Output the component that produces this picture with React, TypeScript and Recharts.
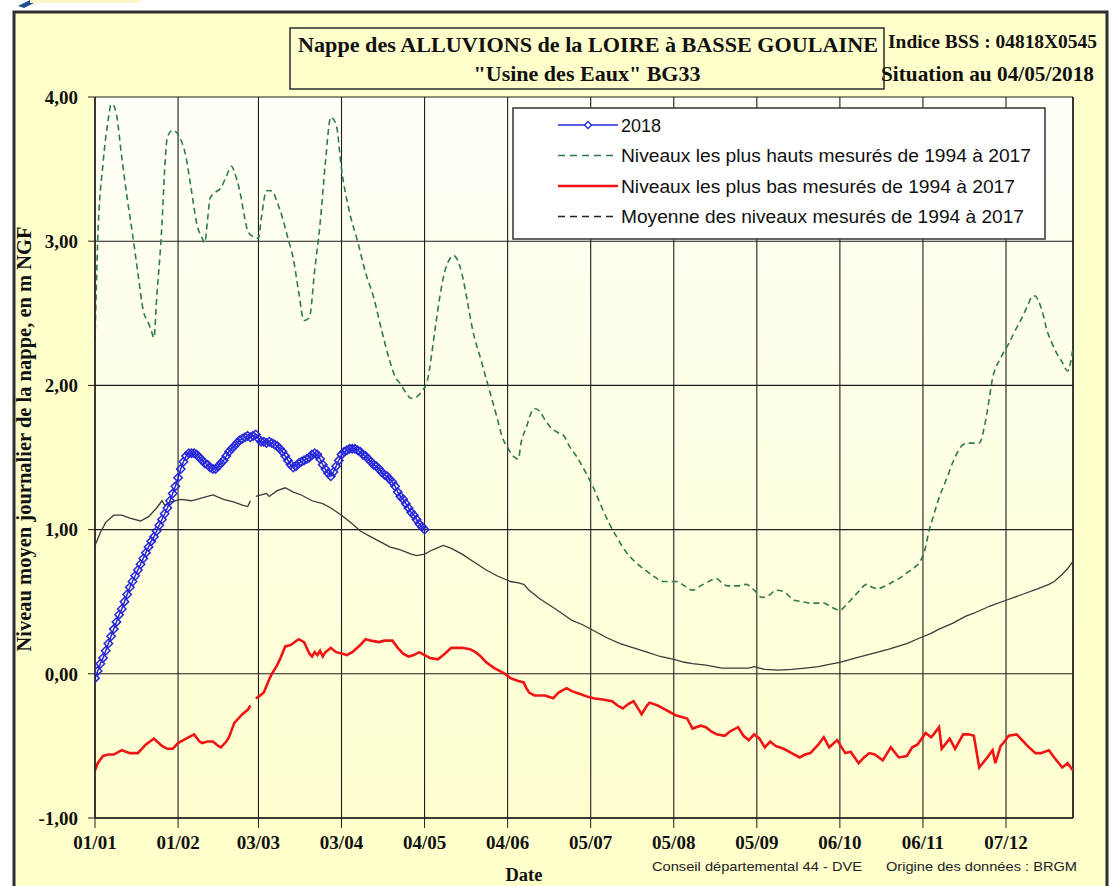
import React from 'react';
import { LineChart, Line, XAxis, YAxis, CartesianGrid, ReferenceLine } from 'recharts';

// ---------- axes ----------
const tickDays = [0, 31, 61, 92, 123, 154, 185, 216, 247, 278, 309, 340];
const tickLabels = ['01/01', '01/02', '03/03', '03/04', '04/05', '04/06', '05/07', '05/08', '05/09', '06/10', '06/11', '07/12'];
const yTicks = [-1, 0, 1, 2, 3, 4];

// ---------- 2018 daily values (day 0 = 01/01) ----------
const values2018 = [
  -0.03, 0.02, 0.07, 0.11, 0.16, 0.21, 0.26, 0.31, 0.36, 0.41,
  0.45, 0.50, 0.55, 0.60, 0.64, 0.68, 0.72, 0.76, 0.80, 0.84,
  0.88, 0.92, 0.95, 0.99, 1.03, 1.07, 1.11, 1.15, 1.20, 1.25,
  1.30, 1.36, 1.42, 1.47, 1.51, 1.53, 1.53, 1.53, 1.52, 1.50,
  1.48, 1.46, 1.45, 1.43, 1.42, 1.42, 1.44, 1.46, 1.48, 1.51,
  1.54, 1.56, 1.58, 1.60, 1.62, 1.63, 1.64, 1.65, 1.64, 1.65,
  1.66, 1.63, 1.61, 1.61, 1.60, 1.61, 1.60, 1.59, 1.58, 1.56,
  1.54, 1.51, 1.48, 1.45, 1.43, 1.44, 1.46, 1.47, 1.48, 1.49,
  1.50, 1.52, 1.53, 1.52, 1.49, 1.45, 1.42, 1.39, 1.37, 1.40,
  1.44, 1.48, 1.52, 1.54, 1.55, 1.56, 1.56, 1.56, 1.55, 1.54,
  1.52, 1.51, 1.49, 1.47, 1.45, 1.44, 1.42, 1.40, 1.38, 1.37,
  1.35, 1.33, 1.30, 1.26, 1.23, 1.21, 1.18, 1.15, 1.12, 1.10,
  1.07, 1.04, 1.02, 1.00,
];

// ---------- highest levels 1994-2017 [day, value] ----------
const maxPoints: [number, number][] = [
  [0, 2.31], [1, 3.0], [3, 3.54], [5, 3.85], [6, 3.95], [7, 3.94], [8, 3.88], [10, 3.58], [12, 3.3], [14, 3.05],
  [16, 2.78], [18, 2.52], [20, 2.43], [21, 2.38], [22, 2.33], [23, 2.6], [25, 3.12], [26, 3.5], [27, 3.72], [29, 3.77],
  [31, 3.74], [34, 3.58], [36, 3.35], [38, 3.12], [40, 3.02], [41, 2.99], [42, 3.15], [43, 3.3], [45, 3.34], [47, 3.37],
  [49, 3.45], [51, 3.52], [52, 3.48], [54, 3.35], [56, 3.15], [57, 3.07], [59, 3.03], [61, 3.02], [62, 3.15], [64, 3.35],
  [66, 3.35], [68, 3.27], [70, 3.16], [72, 3.02], [74, 2.88], [76, 2.65], [78, 2.45], [80, 2.47], [82, 2.8], [84, 3.12],
  [86, 3.55], [88, 3.86], [90, 3.81], [92, 3.5], [95, 3.2], [98, 3.0], [101, 2.78], [104, 2.61], [107, 2.38], [110, 2.17],
  [112, 2.06], [114, 2.01], [116, 1.95], [118, 1.91], [120, 1.92], [122, 1.96], [124, 2.03], [127, 2.4], [129, 2.65], [131, 2.82],
  [134, 2.9], [135, 2.88], [137, 2.77], [139, 2.58], [141, 2.38], [144, 2.18], [147, 1.98], [150, 1.78], [152, 1.64], [154, 1.57],
  [156, 1.51], [158, 1.49], [159, 1.6], [161, 1.71], [163, 1.82], [164, 1.84], [166, 1.82], [168, 1.76], [170, 1.71], [173, 1.67],
  [175, 1.65], [177, 1.58], [180, 1.5], [183, 1.4], [186, 1.29], [189, 1.16], [192, 1.04], [195, 0.94], [198, 0.85], [202, 0.77],
  [206, 0.71], [209, 0.67], [212, 0.64], [217, 0.64], [220, 0.61], [223, 0.58], [226, 0.61], [228, 0.63], [232, 0.66], [234, 0.63],
  [236, 0.61], [240, 0.61], [243, 0.62], [246, 0.58], [249, 0.53], [252, 0.55], [254, 0.58], [257, 0.57], [261, 0.51], [264, 0.5],
  [267, 0.49], [270, 0.49], [272, 0.49], [275, 0.46], [278, 0.44], [280, 0.47], [282, 0.51], [285, 0.57], [288, 0.62], [290, 0.6],
  [292, 0.59], [295, 0.61], [297, 0.63], [300, 0.66], [303, 0.7], [306, 0.74], [308, 0.78], [310, 0.88], [311, 0.97], [313, 1.1],
  [315, 1.22], [318, 1.36], [320, 1.46], [322, 1.54], [324, 1.59], [326, 1.6], [328, 1.6], [330, 1.6], [332, 1.72], [333, 1.82],
  [335, 2.05], [338, 2.19], [341, 2.29], [344, 2.4], [346, 2.47], [348, 2.55], [350, 2.62], [351, 2.62], [352, 2.59], [354, 2.48],
  [355, 2.4], [357, 2.3], [359, 2.22], [361, 2.16], [363, 2.1], [365, 2.26],
];

// ---------- lowest levels 1994-2017 [day, value] ----------
const minPoints: [number, number | null][] = [
  [0, -0.67], [1, -0.62], [3, -0.57], [5, -0.56], [7, -0.56], [10, -0.53], [13, -0.55], [16, -0.55], [19, -0.49], [22, -0.45],
  [25, -0.5], [27, -0.52], [29, -0.52], [31, -0.48], [34, -0.45], [37, -0.42], [39, -0.47], [40, -0.48], [42, -0.47], [44, -0.47],
  [46, -0.5], [47, -0.51], [49, -0.47], [50, -0.44], [52, -0.34], [55, -0.28], [57, -0.25], [58, -0.22], [59, null], [60, -0.17],
  [61, -0.16], [63, -0.13], [65, -0.04], [66, 0.0], [68, 0.06], [69, 0.1], [71, 0.19], [73, 0.2], [76, 0.24], [78, 0.22],
  [80, 0.14], [81, 0.12], [82, 0.15], [83, 0.13], [84, 0.16], [85, 0.12], [86, 0.15], [88, 0.18], [90, 0.15], [92, 0.14],
  [94, 0.13], [96, 0.15], [99, 0.2], [101, 0.24], [103, 0.23], [106, 0.22], [108, 0.23], [111, 0.23], [113, 0.18], [115, 0.14],
  [117, 0.12], [119, 0.13], [121, 0.15], [123, 0.13], [125, 0.11], [128, 0.1], [130, 0.13], [133, 0.18], [137, 0.18], [140, 0.17],
  [142, 0.15], [144, 0.12], [146, 0.08], [149, 0.04], [151, 0.02], [153, 0.0], [155, -0.03], [158, -0.05], [160, -0.06], [161, -0.1],
  [162, -0.13], [164, -0.15], [166, -0.15], [168, -0.15], [171, -0.17], [173, -0.13], [176, -0.1], [178, -0.12], [181, -0.14], [184, -0.16],
  [186, -0.17], [190, -0.18], [193, -0.19], [195, -0.22], [197, -0.24], [199, -0.21], [201, -0.19], [203, -0.25], [204, -0.28], [206, -0.22],
  [207, -0.2], [210, -0.22], [212, -0.24], [215, -0.27], [217, -0.29], [219, -0.3], [221, -0.31], [223, -0.38], [226, -0.36], [228, -0.37],
  [230, -0.4], [232, -0.42], [235, -0.43], [237, -0.4], [240, -0.37], [242, -0.43], [244, -0.46], [246, -0.42], [248, -0.45], [250, -0.51],
  [252, -0.47], [254, -0.5], [257, -0.52], [260, -0.55], [263, -0.58], [265, -0.56], [267, -0.55], [270, -0.49], [272, -0.44], [274, -0.51],
  [277, -0.46], [280, -0.55], [282, -0.54], [285, -0.62], [287, -0.58], [289, -0.55], [291, -0.56], [294, -0.6], [297, -0.51], [300, -0.58],
  [303, -0.57], [305, -0.51], [307, -0.49], [310, -0.41], [312, -0.44], [313, -0.42], [315, -0.37], [316, -0.52], [319, -0.45], [321, -0.52],
  [324, -0.42], [326, -0.42], [328, -0.43], [330, -0.65], [333, -0.58], [335, -0.53], [336, -0.62], [338, -0.5], [339, -0.48], [341, -0.43],
  [344, -0.42], [346, -0.46], [348, -0.5], [351, -0.55], [353, -0.55], [356, -0.53], [358, -0.58], [361, -0.65], [363, -0.62], [365, -0.67],
];

// ---------- mean levels 1994-2017 [day, value] ----------
const meanPoints: [number, number | null][] = [
  [0, 0.89], [2, 0.98], [4, 1.05], [7, 1.1], [10, 1.1], [13, 1.08], [17, 1.06], [20, 1.09], [23, 1.15], [25, 1.2],
  [26, 1.17], [28, 1.19], [32, 1.21], [36, 1.2], [40, 1.22], [44, 1.24], [48, 1.21], [52, 1.19], [55, 1.17], [57, 1.16],
  [58, 1.2], [59, null], [60, 1.23], [62, 1.24], [64, 1.25], [65, 1.23], [68, 1.27], [71, 1.29], [74, 1.26], [77, 1.24],
  [81, 1.2], [85, 1.18], [88, 1.15], [92, 1.1], [96, 1.04], [99, 0.99], [103, 0.95], [106, 0.92], [110, 0.88], [114, 0.86],
  [118, 0.83], [120, 0.82], [123, 0.83], [126, 0.86], [130, 0.89], [133, 0.87], [137, 0.83], [141, 0.78], [146, 0.72], [150, 0.68],
  [155, 0.64], [158, 0.63], [160, 0.62], [162, 0.58], [166, 0.52], [171, 0.46], [175, 0.41], [178, 0.37], [182, 0.34], [186, 0.3],
  [191, 0.25], [196, 0.21], [201, 0.18], [206, 0.15], [211, 0.12], [216, 0.1], [220, 0.08], [223, 0.07], [228, 0.06], [234, 0.04],
  [240, 0.04], [244, 0.04], [246, 0.05], [248, 0.04], [250, 0.03], [255, 0.025], [260, 0.03], [265, 0.04], [270, 0.05], [274, 0.065],
  [278, 0.08], [284, 0.11], [290, 0.14], [296, 0.17], [303, 0.21], [308, 0.25], [312, 0.28], [315, 0.31], [320, 0.35], [325, 0.4],
  [328, 0.42], [334, 0.47], [340, 0.51], [346, 0.55], [352, 0.59], [356, 0.62], [358, 0.64], [361, 0.69], [363, 0.73], [365, 0.78],
];

const rows2018 = values2018.map((v, i) => ({ d: i, v }));
const toRows = (pts: [number, number | null][]) => pts.map(([d, v]) => ({ d, v }));
const maxRows = toRows(maxPoints);
const minRows = toRows(minPoints);
const meanRows = toRows(meanPoints);

const BLUE = '#2727dc';
const GREEN = '#2e7a4c';
const RED = '#f01414';
const GREY = '#3a3a3a';
const SERIF = '"Liberation Serif", "Times New Roman", serif';
const SANS = '"Liberation Sans", Arial, sans-serif';

const fmtY = (v: number) => v.toFixed(2).replace('.', ',');
const fmtX = (d: number) => {
  const i = tickDays.indexOf(d);
  return i >= 0 ? tickLabels[i] : '';
};

const Diamond = (props: any) => {
  const { cx, cy, index } = props;
  if (cx == null || cy == null) return <g key={`e-${index}`} />;
  const r = 4.2;
  return (
    <path
      key={`dm-${index}`}
      d={`M${cx},${cy - r} L${cx + r},${cy} L${cx},${cy + r} L${cx - r},${cy} Z`}
      fill="none"
      stroke={BLUE}
      strokeWidth={1.5}
    />
  );
};

const legendItems = [
  { label: '2018', kind: 'blue', w: 40 },
  { label: 'Niveaux les plus hauts mesurés de 1994 à 2017', kind: 'green', w: 410 },
  { label: 'Niveaux les plus bas mesurés de 1994 à 2017', kind: 'red', w: 394 },
  { label: 'Moyenne des niveaux mesurés de 1994 à 2017', kind: 'black', w: 403 },
];

export default function App() {
  return (
    <div style={{ position: 'absolute', left: 0, top: 0, width: 1120, height: 886, overflow: 'hidden', background: '#ffffff' }}>
      {/* background frame and texts */}
      <svg width={1120} height={886} style={{ position: 'absolute', left: 0, top: 0 }}>
        <path d="M18,6 L30,0 L40,0 L24,8 Z" fill="#1f4f8f" />
        <rect x={30} y={0} width={110} height={3} fill="#fff7c8" />
        <rect x={14} y={12} width={1093} height={890} fill="#ffffcc" stroke="#2e2e2e" strokeWidth={3} />
        <rect x={290} y={28} width={594} height={61} fill="#ffffcc" stroke="#2a2a2a" strokeWidth={1.5} />
        <text x={588} y={52} textAnchor="middle" fontFamily={SERIF} fontWeight="bold" fontSize={21.5} fill="#111"
          textLength={580} lengthAdjust="spacingAndGlyphs">
          Nappe des ALLUVIONS de la LOIRE à BASSE GOULAINE
        </text>
        <text x={587} y={81} textAnchor="middle" fontFamily={SERIF} fontWeight="bold" fontSize={21.5} fill="#111"
          textLength={227} lengthAdjust="spacingAndGlyphs">
          "Usine des Eaux" BG33
        </text>
        <text x={1097} y={48} textAnchor="end" fontFamily={SERIF} fontWeight="bold" fontSize={18.5} fill="#111"
          textLength={209} lengthAdjust="spacingAndGlyphs">
          Indice BSS : 04818X0545
        </text>
        <text x={1094} y={81} textAnchor="end" fontFamily={SERIF} fontWeight="bold" fontSize={21} fill="#111"
          textLength={213} lengthAdjust="spacingAndGlyphs">
          Situation au 04/05/2018
        </text>
        <text
          x={0}
          y={0}
          transform="translate(31,439) rotate(-90)"
          textAnchor="middle"
          fontFamily={SERIF}
          fontWeight="bold"
          fontSize={20.5}
          fill="#111"
        >
          Niveau moyen journalier de la nappe, en m NGF
        </text>
        <text x={524} y={881} textAnchor="middle" fontFamily={SERIF} fontWeight="bold" fontSize={18.5} fill="#111">
          Date
        </text>
        <text x={652} y={871} fontFamily={SANS} fontSize={13.5} fill="#222" textLength={210} lengthAdjust="spacingAndGlyphs">
          Conseil départemental 44 - DVE
        </text>
        <text x={886} y={871} fontFamily={SANS} fontSize={13.5} fill="#222" textLength={191} lengthAdjust="spacingAndGlyphs">
          Origine des données : BRGM
        </text>
      </svg>

      {/* chart */}
      <div style={{ position: 'absolute', left: 0, top: 0 }}>
        <LineChart width={1120} height={886} margin={{ top: 97, right: 47, left: 35, bottom: 38 }}>
          <defs>
            <linearGradient id="plotBg" x1="0" y1="0" x2="0" y2="1">
              <stop offset="0%" stopColor="#fffff8" />
              <stop offset="100%" stopColor="#ffffd0" />
            </linearGradient>
          </defs>
          <CartesianGrid stroke="#1e1e1e" strokeWidth={1.1} fill="url(#plotBg)" fillOpacity={1} />
          <XAxis
            type="number"
            dataKey="d"
            domain={[0, 365]}
            ticks={tickDays}
            tickFormatter={fmtX}
            interval={0}
            height={30}
            tickSize={10}
            tickMargin={8}
            axisLine={{ stroke: '#1e1e1e', strokeWidth: 1.5 }}
            tickLine={{ stroke: '#1e1e1e', strokeWidth: 1 }}
            tick={{ fontFamily: SERIF, fontWeight: 'bold', fontSize: 19, fill: '#111' }}
            allowDataOverflow
          />
          <YAxis
            type="number"
            domain={[-1, 4]}
            ticks={yTicks}
            tickFormatter={fmtY}
            interval={0}
            width={60}
            tickSize={7}
            tickMargin={10}
            axisLine={{ stroke: '#1e1e1e', strokeWidth: 1.5 }}
            tickLine={{ stroke: '#1e1e1e', strokeWidth: 1 }}
            tick={{ fontFamily: SERIF, fontWeight: 'bold', fontSize: 19, fill: '#111' }}
            allowDataOverflow
          />
          <ReferenceLine x={365} stroke="#1e1e1e" strokeWidth={1.5} />
          <Line
            data={maxRows}
            dataKey="v"
            type="monotone"
            stroke={GREEN}
            strokeWidth={1.6}
            strokeDasharray="6 4"
            dot={false}
            isAnimationActive={false}
          />
          <Line
            data={meanRows}
            dataKey="v"
            type="linear"
            stroke={GREY}
            strokeWidth={1.3}
            dot={false}
            connectNulls={false}
            isAnimationActive={false}
          />
          <Line
            data={minRows}
            dataKey="v"
            type="linear"
            stroke={RED}
            strokeWidth={2.6}
            dot={false}
            connectNulls={false}
            isAnimationActive={false}
          />
          <Line
            data={rows2018}
            dataKey="v"
            type="linear"
            stroke={BLUE}
            strokeWidth={1.5}
            dot={Diamond}
            isAnimationActive={false}
          />
        </LineChart>
      </div>

      {/* legend */}
      <svg width={1120} height={886} style={{ position: 'absolute', left: 0, top: 0, pointerEvents: 'none' }}>
        <rect x={513} y={108} width={532} height={131} fill="#ffffff" stroke="#333" strokeWidth={1.5} />
        {legendItems.map((it, i) => {
          const cy = 125 + i * 30.5;
          let sample: React.ReactNode = null;
          if (it.kind === 'blue') {
            sample = (
              <g>
                <line x1={558} y1={cy} x2={618} y2={cy} stroke={BLUE} strokeWidth={1.4} />
                <path d={`M588,${cy - 3.5} L591.5,${cy} L588,${cy + 3.5} L584.5,${cy} Z`} fill="#fff" stroke={BLUE} strokeWidth={1.3} />
              </g>
            );
          } else if (it.kind === 'green') {
            sample = <line x1={558} y1={cy} x2={618} y2={cy} stroke={GREEN} strokeWidth={1.6} strokeDasharray="7 5" />;
          } else if (it.kind === 'red') {
            sample = <line x1={558} y1={cy} x2={618} y2={cy} stroke={RED} strokeWidth={2.6} />;
          } else {
            sample = <line x1={558} y1={cy} x2={618} y2={cy} stroke="#222" strokeWidth={1.3} strokeDasharray="7 5" />;
          }
          return (
            <g key={it.label}>
              {sample}
              <text x={621} y={cy + 6.5} fontFamily={SANS} fontSize={17.5} fill="#111" textLength={it.w} lengthAdjust="spacingAndGlyphs">
                {it.label}
              </text>
            </g>
          );
        })}
      </svg>
    </div>
  );
}
